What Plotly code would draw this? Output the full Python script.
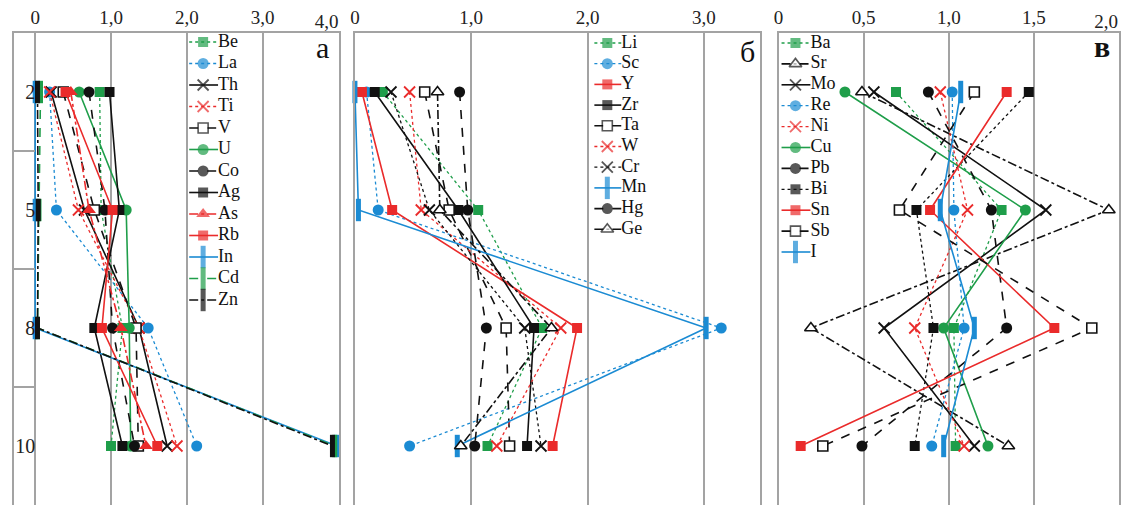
import plotly.graph_objects as go

# ---------------- data ----------------
depths = ["2", "5", "8", "10"]

# panel а
a_Be = [0.85, 0.87, 1.15, 1.00]
a_La = [0.19, 0.28, 1.49, 2.13]
a_Th = [0.21, 0.65, 1.37, 1.74]
a_Ti = [0.19, 0.57, 1.37, 1.87]
a_V = [0.37, 0.78, 1.33, 1.36]
a_U = [0.58, 1.20, 1.24, 1.26]
a_Co = [0.71, 0.92, 1.02, 1.31]
a_Ag = [0.98, 1.11, 0.78, 1.15]
a_As = [0.47, 0.71, 1.13, 1.46]
a_Rb = [0.40, 1.02, 0.88, 1.61]
a_In = [0.00, 0.00, 0.00, 3.98]
a_Cd = [0.07, 0.05, 0.03, 3.95]
a_Zn = [0.03, 0.04, 0.03, 3.92]

# panel б
b_Li = [0.24, 1.06, 1.61, 1.14]
b_Sc = [0.10, 0.20, 3.15, 0.47]
b_Y = [0.06, 0.32, 1.91, 1.70]
b_Zr = [0.17, 0.89, 1.54, 1.48]
b_Ta = [0.60, 0.81, 1.30, 1.33]
b_W = [0.47, 0.57, 1.77, 1.22]
b_Cr = [0.31, 0.64, 1.46, 1.60]
b_Mn = [0.00, 0.03, 3.02, 0.88]
b_Hg = [0.90, 0.97, 1.13, 1.03]
b_Ge = [0.71, 0.73, 1.69, 0.91]

# panel в
c_Ba = [0.69, 1.31, 1.03, 1.04]
c_Sr = [0.49, 1.94, 0.19, 1.35]
c_Mo = [0.56, 1.57, 0.62, 1.15]
c_Re = [1.02, 1.03, 1.09, 0.90]
c_Ni = [0.95, 1.11, 0.80, 1.09]
c_Cu = [0.39, 1.45, 0.97, 1.23]
c_Pb = [0.88, 1.25, 1.34, 0.49]
c_Bi = [1.47, 0.81, 0.91, 0.80]
c_Sn = [1.34, 0.89, 1.62, 0.13]
c_Sb = [1.15, 0.71, 1.84, 0.26]
c_I = [1.07, 0.95, 1.15, 0.97]

a_ticks = [0, 1, 2, 3, 4]
a_ticktext = ["0", "1,0", "2,0", "3,0", ""]
a_last_tick = [4]
a_last_text = ["4,0"]
b_ticks = [0, 1, 2, 3]
b_ticktext = ["0", "1,0", "2,0", "3,0"]
c_ticks = [0, 0.5, 1, 1.5, 2]
c_ticktext = ["0", "0,5", "1,0", "1,5", ""]
c_last_tick = [2]
c_last_text = ["2,0"]

# ---------------- styles ----------------
GREEN = "#1f9e4a"
BLUE = "#1b8bd3"
RED = "#ea2b2b"
BLACK = "#111111"
GRID = "#a3a3a3"
FONT = "Liberation Serif"

# (name, values, color, dash, symbol-kind)
panel_a = [
    ("Be", a_Be, GREEN, "dot", "sq"),
    ("La", a_La, BLUE, "dot", "ci"),
    ("Th", a_Th, BLACK, "solid", "x"),
    ("Ti", a_Ti, RED, "dot", "x"),
    ("V", a_V, BLACK, "dash", "osq"),
    ("U", a_U, GREEN, "solid", "ci"),
    ("Co", a_Co, BLACK, "dash", "ci"),
    ("Ag", a_Ag, BLACK, "solid", "sq"),
    ("As", a_As, RED, "dashdot", "tri"),
    ("Rb", a_Rb, RED, "solid", "sq"),
    ("In", a_In, BLUE, "solid", "bar"),
    ("Cd", a_Cd, GREEN, "dash", "bar"),
    ("Zn", a_Zn, BLACK, "dashdot", "bar"),
]
panel_b = [
    ("Li", b_Li, GREEN, "dot", "sq"),
    ("Sc", b_Sc, BLUE, "dot", "ci"),
    ("Y", b_Y, RED, "solid", "sq"),
    ("Zr", b_Zr, BLACK, "solid", "sq"),
    ("Ta", b_Ta, BLACK, "dash", "osq"),
    ("W", b_W, RED, "dot", "x"),
    ("Cr", b_Cr, BLACK, "dot", "x"),
    ("Mn", b_Mn, BLUE, "solid", "bar"),
    ("Hg", b_Hg, BLACK, "dash", "ci"),
    ("Ge", b_Ge, BLACK, "dashdot", "otri"),
]
panel_c = [
    ("Ba", c_Ba, GREEN, "dot", "sq"),
    ("Sr", c_Sr, BLACK, "dashdot", "otri"),
    ("Mo", c_Mo, BLACK, "solid", "x"),
    ("Re", c_Re, BLUE, "dot", "ci"),
    ("Ni", c_Ni, RED, "dot", "x"),
    ("Cu", c_Cu, GREEN, "solid", "ci"),
    ("Pb", c_Pb, BLACK, "dash", "ci"),
    ("Bi", c_Bi, BLACK, "dot", "sq"),
    ("Sn", c_Sn, RED, "solid", "sq"),
    ("Sb", c_Sb, BLACK, "dash", "osq"),
    ("I", c_I, BLUE, "solid", "bar"),
]


def marker(kind, color):
    if kind == "sq":
        return dict(symbol="square", size=10, color=color, line=dict(width=0))
    if kind == "osq":
        return dict(symbol="square", size=10, color="white", line=dict(width=1.6, color=color))
    if kind == "ci":
        return dict(symbol="circle", size=11, color=color, line=dict(width=0))
    if kind == "x":
        return dict(symbol="x-thin", size=11, color=color, line=dict(width=1.8, color=color))
    if kind == "tri":
        return dict(symbol="triangle-up", size=12, color=color, line=dict(width=0))
    if kind == "otri":
        return dict(symbol="triangle-up", size=11, color="white", line=dict(width=1.6, color=color))
    if kind == "bar":
        return dict(symbol="line-ns", size=16, color=color, line=dict(width=5, color=color))


def lw(dash):
    return 1.3 if dash == "dot" else 1.6


fig = go.Figure()

for series, xa, ya in [(panel_a, "x", "y"), (panel_b, "x2", "y2"), (panel_c, "x3", "y3")]:
    for name, vals, color, dash, kind in series:
        fig.add_trace(go.Scatter(
            x=vals, y=depths, xaxis=xa, yaxis=ya, name=name,
            mode="lines+markers", showlegend=False, cliponaxis=False,
            line=dict(color=color, dash=dash, width=lw(dash)),
            marker=marker(kind, color),
        ))

# helper traces so the extra label / tick axes are drawn
for xa, ya in [("x", "y5"), ("x", "y6"), ("x5", "y"), ("x6", "y3")]:
    fig.add_trace(go.Scatter(x=[None], y=[None], xaxis=xa, yaxis=ya,
                             showlegend=False, hoverinfo="skip"))

# ---------------- legends (drawn on a pixel overlay) ----------------
legend_specs = [
    (panel_a, 185, 213, 42, 21.5),
    (panel_b, 592, 618, 43, 20.7),
    (panel_c, 780, 808, 43, 20.9),
]
for series, x0, x1, top, step in legend_specs:
    for i, (name, vals, color, dash, kind) in enumerate(series):
        yy = top + i * step
        mk = marker(kind, color)
        mk["size"] = [0, mk["size"], 0]
        fig.add_trace(go.Scatter(
            x=[x0, (x0 + x1) / 2, x1 + 1], y=[yy, yy, yy], xaxis="x4", yaxis="y4",
            mode="lines+markers+text", text=["", "", name], textposition="middle right",
            textfont=dict(family=FONT, size=18, color=BLACK),
            showlegend=False, cliponaxis=False, hoverinfo="skip",
            line=dict(color=color, dash=dash, width=lw(dash)),
            marker=mk,
        ))

W, H = 1126, 506
TICKFONT = dict(family=FONT, size=19, color="#222222")
common_x = dict(
    side="top", showgrid=True, gridcolor=GRID, gridwidth=1.5, zeroline=False,
    showline=True, linecolor=GRID, linewidth=1.5, ticks="",
    tickfont=TICKFONT, fixedrange=True,
)
edge_x = dict(
    side="top", ticks="", showgrid=False, showline=False, zeroline=False,
    tickfont=TICKFONT, fixedrange=True, ticklabeloverflow="allow",
)
common_y = dict(
    type="category", categoryorder="array", categoryarray=depths,
    range=[3.5, -0.5], showline=True, mirror=True, linecolor=GRID, linewidth=1.5,
    showgrid=False, zeroline=False, showticklabels=False, ticks="", fixedrange=True,
)

fig.update_layout(
    width=W, height=H,
    margin=dict(l=0, r=0, t=33, b=1, pad=0),
    paper_bgcolor="white", plot_bgcolor="rgba(0,0,0,0)",
    font=dict(family=FONT, color=BLACK),
    xaxis=dict(common_x, domain=[9 / W, 335 / W], range=[-0.28, 4.0], anchor="y",
               tickvals=a_ticks, ticktext=a_ticktext),
    xaxis5=dict(edge_x, overlaying="x", anchor="y", range=[-0.28, 4.0],
                tickvals=a_last_tick, ticktext=a_last_text, ticklabelshift=-12),
    xaxis2=dict(common_x, domain=[351.5 / W, 758 / W], range=[0, 3.48], anchor="y2",
                tickvals=b_ticks, ticktext=b_ticktext),
    xaxis3=dict(common_x, domain=[777 / W, 1119 / W], range=[0, 2.0], anchor="y3",
                tickvals=c_ticks, ticktext=c_ticktext),
    xaxis6=dict(edge_x, overlaying="x3", anchor="y3", range=[0, 2.0],
                tickvals=c_last_tick, ticktext=c_last_text, ticklabelshift=-13),
    yaxis=dict(common_y, anchor="x"),
    yaxis2=dict(common_y, anchor="x2"),
    yaxis3=dict(common_y, anchor="x3"),
    yaxis5=dict(overlaying="y", anchor="free", position=30.5 / W, side="left",
                range=[3.5, -0.5], tickvals=[0, 1, 2, 3], ticktext=depths,
                showline=False, showgrid=False, zeroline=False, ticks="",
                tickfont=dict(family=FONT, size=20, color="#222222"), fixedrange=True),
    yaxis6=dict(overlaying="y", anchor="free", position=30.5 / W, side="left",
                range=[3.5, -0.5], tickvals=[0.5, 1.5, 2.5],
                showline=False, showgrid=False, zeroline=False, ticks="outside",
                ticklen=21, tickwidth=1.5, tickcolor=GRID, showticklabels=False, fixedrange=True),
    xaxis4=dict(domain=[0, 1], range=[0, W], anchor="y4", visible=False, fixedrange=True),
    yaxis4=dict(domain=[0, 1], range=[505, 33], anchor="x4", visible=False, fixedrange=True),
)

for txt, xp, yp, bold in [("а", 319, 47, False), ("б", 746, 51, False), ("в", 1102, 46, True)]:
    fig.add_annotation(
        x=xp, y=yp, xref="x4", yref="y4", showarrow=False,
        text=f"<b>{txt}</b>" if bold else txt,
        font=dict(family=FONT, size=30, color=BLACK),
        xanchor="center", yanchor="middle",
    )

fig.write_html("out.html", config={"displayModeBar": False},
               post_script="document.body.style.margin='0';")
